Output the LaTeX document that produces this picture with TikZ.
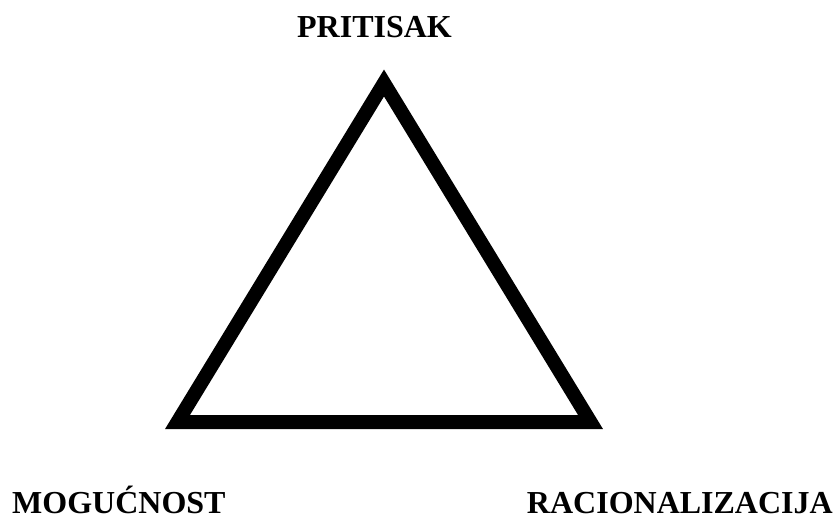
\documentclass[tikz,border=0pt]{standalone}
\usepackage{fontspec}
\setmainfont{Liberation Serif}
\usetikzlibrary{positioning}

\tikzset{
  corner label/.style={inner sep=0pt,font=\fontsize{32}{36}\selectfont\bfseries}
}

\begin{document}
\begin{tikzpicture}[x=1pt,y=-1pt]
  % canvas
  \useasboundingbox (0,0) rectangle (838,525);

  % triangle corners
  \coordinate (top) at (384,83);
  \coordinate (left) at (177.5,422);
  \coordinate (right) at (590.5,422);

  % Triangle
  \draw[line width=14pt,miter limit=10] (top) -- (right) -- (left) -- cycle;

  % Corner labels
  \node[corner label,anchor=base] (pritisak) at (374.5,37) {PRITISAK};
  \node[corner label,anchor=base west] (mogucnost) at (12,513) {MOGUĆNOST};
  \node[corner label,anchor=base east] (racionalizacija) at (833,513) {RACIONALIZACIJA};
\end{tikzpicture}
\end{document}
